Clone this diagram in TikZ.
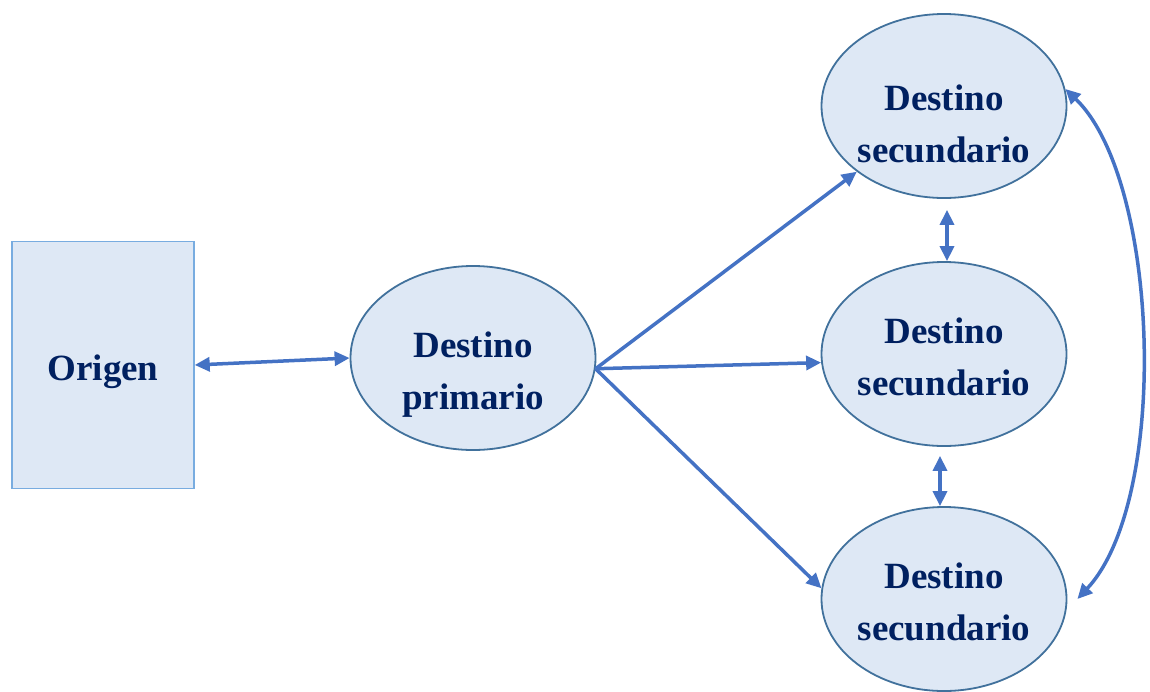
\documentclass[tikz,border=0pt]{standalone}
\usepackage{fontspec}
\setmainfont{Liberation Serif}
\usetikzlibrary{shapes.geometric,arrows.meta}
\definecolor{linkblue}{RGB}{68,114,196}
\definecolor{boxfill}{RGB}{222,232,245}
\definecolor{boxline}{RGB}{120,172,224}
\definecolor{ellline}{RGB}{65,113,156}
\definecolor{textblue}{RGB}{0,32,96}

\begin{document}
\begin{tikzpicture}[x=1pt,y=-1pt,
  >={Triangle[length=15pt,width=14pt]},
  lbl/.style={text=textblue,font=\bfseries\fontsize{37}{52}\selectfont},
  dest/.style={ellipse,lbl,draw=ellline,line width=1.8pt,fill=boxfill,
    minimum width=245pt,minimum height=184pt,inner sep=0pt,align=center,
    text height=82pt,text depth=0pt},
  link/.style={draw=linkblue,line width=3.5pt}]
  \useasboundingbox (0,0) rectangle (1150,691); % page size
  \node[lbl,draw=boxline,line width=1.4pt,fill=boxfill,minimum width=182pt,
    minimum height=247pt,text height=33pt,text depth=2pt] (origen) at (103,365) {Origen};
  \node[dest,text height=103pt] (prim) at (473,358) {Destino\\primario};
  \foreach \n/\y/\h in {1/106/112,2/354/82,3/599/82}
    \node[dest,text height=\h pt] (sec\n) at (944,\y) {Destino\\secundario};
  % connectors
  \draw[link,<->] (origen.east) -- (prim.west);
  \foreach \n/\a in {1/217,2/184,3/175}
    \draw[link,->] (prim.-5) -- (sec\n.\a);
  \draw[link,<->,shorten <=11pt] ([xshift=3pt]sec1.south) -- ([xshift=3pt]sec2.north);
  \draw[link,<->,shorten <=9pt] ([xshift=-4pt]sec2.south) -- ([xshift=-4pt]sec3.north);
  \draw[link,<->] (sec1.8) .. controls (1160,180) and (1170,500) .. ([xshift=10pt]sec3.east);
\end{tikzpicture}
\end{document}
